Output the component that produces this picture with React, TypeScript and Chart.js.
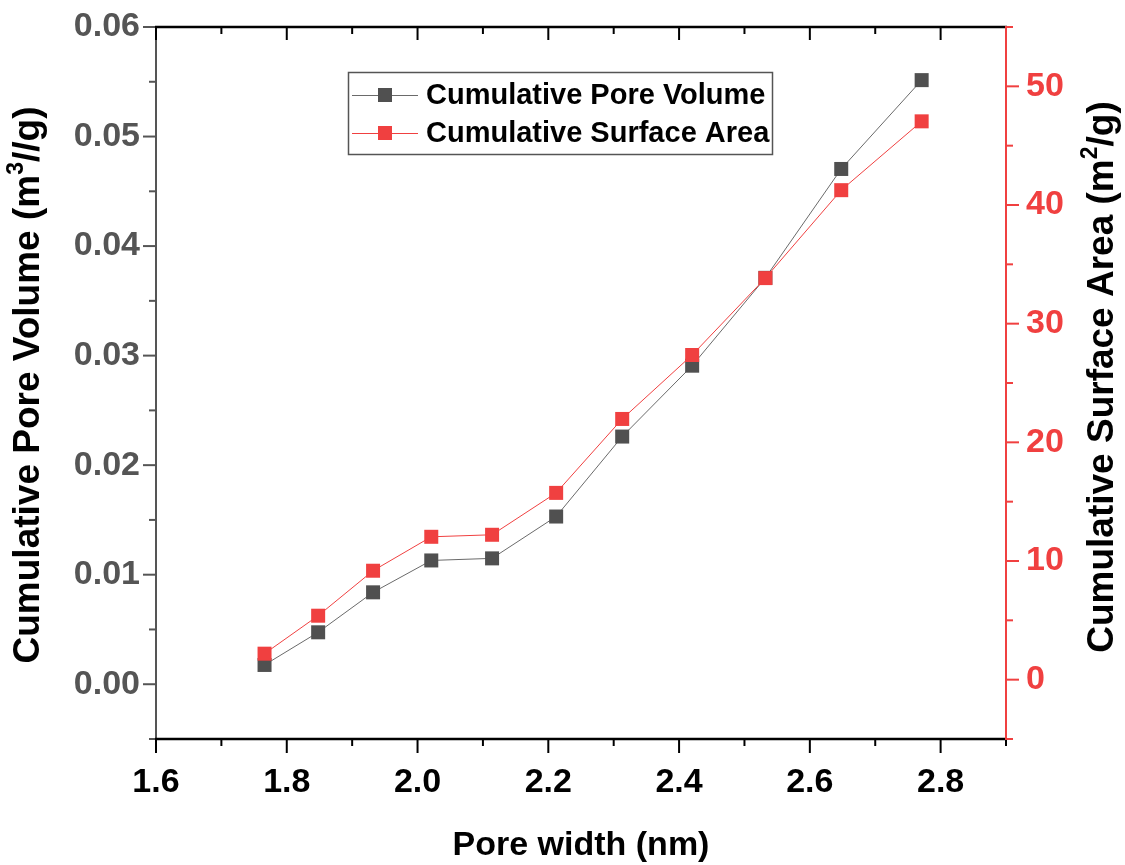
import React, { useEffect, useRef } from 'react';
import { Chart, registerables } from 'chart.js';

Chart.register(...registerables);

// ---- data ----
const poreWidth = [1.766, 1.848, 1.932, 2.021, 2.114, 2.212, 2.313, 2.42, 2.532, 2.648, 2.771];
const cumulativePoreVolume = [0.00176, 0.00474, 0.00839, 0.0113, 0.01149, 0.01531, 0.02261, 0.02908, 0.0371, 0.04704, 0.05515];
const cumulativeSurfaceArea = [2.19, 5.39, 9.18, 12.04, 12.21, 15.74, 21.97, 27.36, 33.84, 41.25, 47.05];

const xTickValues = [1.6, 1.8, 2.0, 2.2, 2.4, 2.6, 2.8];
const leftTickValues = [0, 0.01, 0.02, 0.03, 0.04, 0.05, 0.06];
const rightTickValues = [0, 10, 20, 30, 40, 50];

const xRange = [1.6, 2.9];
const leftRange = [-0.005, 0.06];
const rightRange = [-5, 55];

const seriesLabels = ['Cumulative Pore Volume', 'Cumulative Surface Area'];
const xTitle = 'Pore width (nm)';
const leftTitle = [{ t: 'Cumulative Pore Volume (m' }, { t: '3', sup: true }, { t: '//g)' }];
const rightTitle = [{ t: 'Cumulative Surface Area (m' }, { t: '2', sup: true }, { t: '/g)' }];

// ---- styles ----
const FONT = '"Liberation Sans", Arial, Helvetica, sans-serif';
const GRAY = '#505050';
const GRAY_LINE = '#6a6a6a';
const RED = '#F04040';
const LEFT_AXIS = '#555555';

function allTicks(major: number[], min: number, max: number) {
  const step = (major[1] - major[0]) / 2;
  const out: { v: number; major: boolean }[] = [];
  const isMajor = (v: number) => major.some((m) => Math.abs(m - v) < step * 1e-3);
  for (let v = major[0]; v >= min - step * 1e-6; v -= step) out.push({ v, major: isMajor(v) });
  for (let v = major[0] + step; v <= max + step * 1e-6; v += step) out.push({ v, major: isMajor(v) });
  return out;
}

function drawRich(ctx: CanvasRenderingContext2D, segs: { t: string; sup?: boolean }[], size: number) {
  const main = `bold ${size}px ${FONT}`;
  const sup = `bold ${Math.round(size * 0.62)}px ${FONT}`;
  let total = 0;
  for (const s of segs) {
    ctx.font = s.sup ? sup : main;
    total += ctx.measureText(s.t).width;
  }
  let x = -total / 2;
  ctx.textAlign = 'left';
  ctx.textBaseline = 'middle';
  for (const s of segs) {
    ctx.font = s.sup ? sup : main;
    ctx.fillText(s.t, x, s.sup ? -size * 0.33 : 0);
    x += ctx.measureText(s.t).width;
  }
}

const axesPlugin = {
  id: 'originAxes',
  afterDraw(chart: any) {
    const { ctx, chartArea: a, scales } = chart;
    const sx = scales.x;
    const yl = scales.yL;
    const yr = scales.yR;
    ctx.save();
    ctx.lineCap = 'butt';
    const seg = (x1: number, y1: number, x2: number, y2: number, color: string, w: number) => {
      ctx.strokeStyle = color;
      ctx.lineWidth = w;
      ctx.beginPath();
      ctx.moveTo(x1, y1);
      ctx.lineTo(x2, y2);
      ctx.stroke();
    };
    // left axis (outward ticks)
    for (const t of allTicks(leftTickValues, leftRange[0], leftRange[1])) {
      const y = yl.getPixelForValue(t.v);
      seg(a.left - (t.major ? 13 : 7), y, a.left, y, LEFT_AXIS, 2);
    }
    seg(a.left, a.top - 1, a.left, a.bottom + 1, LEFT_AXIS, 2);
    // right axis (outward ticks)
    for (const t of allTicks(rightTickValues, rightRange[0], rightRange[1])) {
      const y = yr.getPixelForValue(t.v);
      seg(a.right, y, a.right + (t.major ? 13 : 7), y, RED, 2);
    }
    // bottom axis (outward) and top axis (inward)
    for (const t of allTicks(xTickValues, xRange[0], xRange[1])) {
      const x = sx.getPixelForValue(t.v);
      seg(x, a.bottom, x, a.bottom + (t.major ? 14 : 7), '#000', 2);
      seg(x, a.top, x, a.top + (t.major ? 13 : 7), '#000', 2);
    }
    seg(a.left - 1, a.bottom, a.right + 1, a.bottom, '#000', 2.5);
    seg(a.left - 1, a.top, a.right + 1, a.top, '#000', 2.5);
    seg(a.right, a.top - 1, a.right, a.bottom + 1, RED, 2);
    ctx.restore();
  },
};

const titlesPlugin = {
  id: 'axisTitles',
  afterDraw(chart: any) {
    const { ctx, chartArea: a } = chart;
    ctx.save();
    ctx.fillStyle = '#000';
    // bottom
    ctx.save();
    ctx.translate((a.left + a.right) / 2, 846);
    drawRich(ctx, [{ t: xTitle }], 34);
    ctx.restore();
    // left
    ctx.save();
    ctx.translate(29, 385);
    ctx.rotate(-Math.PI / 2);
    drawRich(ctx, leftTitle, 37);
    ctx.restore();
    // right
    ctx.save();
    ctx.translate(1103, 377);
    ctx.rotate(-Math.PI / 2);
    drawRich(ctx, rightTitle, 37);
    ctx.restore();
    ctx.restore();
  },
};

const legendPlugin = {
  id: 'boxLegend',
  afterDraw(chart: any) {
    const { ctx } = chart;
    const box = { x: 348.5, y: 72.5, w: 424, h: 82 };
    ctx.save();
    ctx.strokeStyle = '#555';
    ctx.lineWidth = 1.5;
    ctx.strokeRect(box.x, box.y, box.w, box.h);
    const rows = [95, 133];
    chart.data.datasets.forEach((ds: any, i: number) => {
      const y = rows[i];
      ctx.strokeStyle = ds.borderColor;
      ctx.lineWidth = 1;
      ctx.beginPath();
      ctx.moveTo(352, y + 0.5);
      ctx.lineTo(418, y + 0.5);
      ctx.stroke();
      ctx.fillStyle = ds.pointBackgroundColor;
      ctx.fillRect(378, y - 7, 14, 14);
      ctx.fillStyle = '#000';
      ctx.font = `bold 29px ${FONT}`;
      ctx.textAlign = 'left';
      ctx.textBaseline = 'middle';
      ctx.fillText(ds.label, 426, y + 1);
    });
    ctx.restore();
  },
};

const zeroPadY = (s: any) => {
  s.paddingTop = 0;
  s.paddingBottom = 0;
};

export default function App() {
  const ref = useRef<HTMLCanvasElement | null>(null);

  useEffect(() => {
    if (!ref.current) return;
    const tickFont = { family: FONT, size: 34, weight: 'bold' as const };
    const chart = new Chart(ref.current, {
      type: 'line',
      data: {
        datasets: [
          {
            label: seriesLabels[0],
            data: poreWidth.map((x, i) => ({ x, y: cumulativePoreVolume[i] })),
            yAxisID: 'yL',
            borderColor: GRAY_LINE,
            borderWidth: 1,
            pointStyle: 'rect',
            pointRadius: 9.9,
            pointHoverRadius: 9.9,
            pointBackgroundColor: GRAY,
            pointBorderWidth: 0,
            order: 1,
          },
          {
            label: seriesLabels[1],
            data: poreWidth.map((x, i) => ({ x, y: cumulativeSurfaceArea[i] })),
            yAxisID: 'yR',
            borderColor: RED,
            borderWidth: 1,
            pointStyle: 'rect',
            pointRadius: 9.9,
            pointHoverRadius: 9.9,
            pointBackgroundColor: RED,
            pointBorderWidth: 0,
            order: 0,
          },
        ],
      },
      options: {
        responsive: false,
        animation: false,
        devicePixelRatio: 1,
        layout: { padding: { top: 27, left: 0, right: 0, bottom: 0 } },
        plugins: {
          legend: { display: false },
          tooltip: { enabled: false },
          title: { display: false },
        },
        scales: {
          x: {
            type: 'linear',
            position: 'bottom',
            min: xRange[0],
            max: xRange[1],
            grid: { display: false, drawTicks: false },
            border: { display: false },
            afterBuildTicks: (s: any) => {
              s.ticks = xTickValues.map((v) => ({ value: v }));
            },
            afterFit: (s: any) => {
              s.height = 126;
              s.paddingLeft = 0;
              s.paddingRight = 0;
            },
            ticks: {
              font: tickFont,
              color: '#000',
              padding: 23,
              maxRotation: 0,
              autoSkip: false,
              callback: (v: any) => Number(v).toFixed(1),
            },
          },
          yL: {
            type: 'linear',
            position: 'left',
            min: leftRange[0],
            max: leftRange[1],
            grid: { display: false, drawTicks: false },
            border: { display: false },
            afterBuildTicks: (s: any) => {
              s.ticks = leftTickValues.map((v) => ({ value: v }));
            },
            afterFit: (s: any) => {
              s.width = 156;
              zeroPadY(s);
            },
            ticks: {
              font: tickFont,
              color: '#555555',
              padding: 16,
              autoSkip: false,
              callback: (v: any) => Number(v).toFixed(2),
            },
          },
          yR: {
            type: 'linear',
            position: 'right',
            min: rightRange[0],
            max: rightRange[1],
            grid: { display: false, drawTicks: false },
            border: { display: false },
            afterBuildTicks: (s: any) => {
              s.ticks = rightTickValues.map((v) => ({ value: v }));
            },
            afterFit: (s: any) => {
              s.width = 119;
              zeroPadY(s);
            },
            ticks: {
              font: tickFont,
              color: RED,
              padding: 20,
              autoSkip: false,
              callback: (v: any) => String(Math.round(Number(v))),
            },
          },
        },
      },
      plugins: [axesPlugin, titlesPlugin, legendPlugin],
    });
    return () => chart.destroy();
  }, []);

  return (
    <div style={{ position: 'fixed', left: 0, top: 0, width: 1125, height: 865, background: '#fff' }}>
      <canvas ref={ref} width={1125} height={865} style={{ display: 'block', width: 1125, height: 865 }} />
    </div>
  );
}
